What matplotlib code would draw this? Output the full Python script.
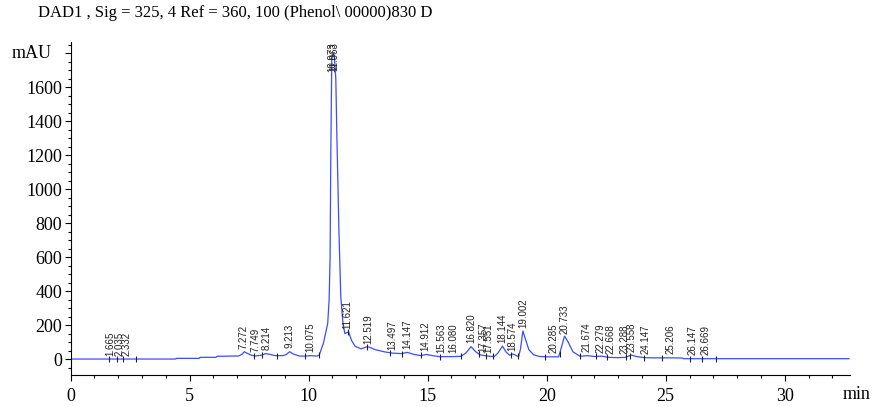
import matplotlib.pyplot as plt
import numpy as np
from matplotlib.ticker import MultipleLocator

# chromatogram trace (min, mAU)
times = [0, 4.4, 4.45, 5.4, 5.45, 6.1, 6.15, 7.05, 7.2, 7.3, 7.4, 7.6, 7.75, 8.0, 8.2,
         8.35, 8.6, 8.9, 9.05, 9.2, 9.35, 9.6, 9.85, 10.1, 10.35, 10.45, 10.62, 10.74,
         10.8, 10.86, 10.9, 10.93, 10.97, 11.02, 11.08, 11.14, 11.18, 11.27, 11.35,
         11.44, 11.52, 11.6, 11.68, 11.8, 11.95, 12.2, 12.45, 12.55, 12.8, 13.2, 13.5,
         13.9, 14.15, 14.4, 14.7, 14.95, 15.2, 15.5, 16.0, 16.4, 16.6, 16.82, 17.0,
         17.2, 17.4, 17.6, 17.8, 17.95, 18.14, 18.3, 18.45, 18.57, 18.7, 18.82, 18.9,
         19.0, 19.1, 19.25, 19.45, 19.7, 20.0, 20.5, 20.6, 20.75, 20.9, 21.1, 21.4,
         21.7, 22.0, 22.3, 22.6, 23.0, 23.3, 23.55, 23.8, 24.1, 24.5, 25.2, 25.7,
         25.75, 32.7]
signal = [0, 0, 4, 4, 10, 10, 16, 18, 28, 43, 35, 22, 18, 22, 32,
          28, 20, 20, 26, 43, 30, 18, 17, 20, 17, 25, 94, 170,
          210, 350, 600, 1200, 1760, 1795, 1785, 1650, 1347, 760, 366,
          212, 150, 155, 160, 110, 75, 60, 72, 70, 55, 42, 35,
          32, 39, 28, 20, 27, 20, 14, 14, 16, 35, 73, 45,
          25, 20, 16, 15, 35, 76, 40, 22, 30, 22, 14, 60,
          165, 120, 55, 25, 15, 13, 13, 60, 135, 100, 43, 16,
          20, 15, 17, 10, 8, 10, 23, 14, 8, 7, 7, 6,
          2, 2]

# retention time labels
peak_rt = [1.665, 2.035, 2.332, 7.272, 7.749, 8.214, 9.213, 10.075, 10.973, 11.063,
           11.621, 12.519, 13.497, 14.147, 14.912, 15.563, 16.080, 16.820, 17.357,
           17.551, 18.144, 18.574, 19.002, 20.285, 20.733, 21.674, 22.279, 22.668,
           23.288, 23.558, 24.147, 25.206, 26.147, 26.669]

# integration event marks on the baseline
event_t = [1.63, 1.94, 2.22, 2.76, 7.72, 8.03, 8.66, 9.85, 10.45, 11.67, 12.45, 13.42,
           13.9, 14.74, 15.5, 16.38, 17.14, 17.46, 17.74, 18.5, 18.8, 19.94, 20.54,
           21.4, 22.08, 22.55, 23.33, 23.5, 24.07, 24.83, 26.02, 26.51, 27.1]

plt.rcParams['font.family'] = ['Liberation Serif', 'DejaVu Serif']

fig = plt.figure(figsize=(8.72, 4.07), dpi=100)
ax = fig.add_axes([0.081, 0.0786, 0.894, 0.818])

ax.plot(times, signal, color='#3c4cff', lw=0.9)

ymax = 1865
for rt in peak_rt:
    yv = np.interp(rt, times, signal)
    if yv > 1500:
        # labels of the main peak hang down from the top of the axes
        ax.text(rt, ymax, '%.3f' % rt, rotation=90, ha='center', va='top',
                fontsize=7, family='Liberation Sans', color='#222222')
    else:
        ax.annotate('%.3f' % rt, (rt, yv), xytext=(0, 2.5), textcoords='offset points',
                    rotation=90, ha='center', va='bottom', fontsize=7,
                    family='Liberation Sans', color='#222222')

ev_y = np.interp(event_t, times, signal)
ax.plot(event_t, ev_y, ls='none', marker='|', ms=5, mew=0.8, color='#222222')

ax.set_xlim(0, 32.75)
ax.set_ylim(-94, ymax)
ax.spines['top'].set_visible(False)
ax.spines['right'].set_visible(False)
ax.xaxis.set_major_locator(MultipleLocator(5))
ax.xaxis.set_minor_locator(MultipleLocator(1))
ax.yaxis.set_major_locator(MultipleLocator(200))
ax.yaxis.set_minor_locator(MultipleLocator(50))
ax.tick_params(which='major', length=4, width=0.8, labelsize=13, pad=2)
ax.tick_params(which='minor', length=2, width=0.8)
ax.tick_params(axis='x', pad=5)

# the 1800 label is replaced by "mAU", drawn a bit further left
yt = [t for t in ax.get_yticks() if -94 <= t <= ymax]
ax.set_yticks(yt)
ax.set_yticklabels(['' if t == 1800 else '%d' % t for t in yt])
ax.text(-0.075, 1800, 'mAU', transform=ax.get_yaxis_transform(), fontsize=13,
        ha='left', va='center')

fig.text(0.966, 0.03, 'min', fontsize=13, ha='left', va='center')
fig.text(0.044, 0.968, 'DAD1 , Sig = 325, 4 Ref = 360, 100 (Phenol\\ 00000)830 D',
         fontsize=12, ha='left', va='center')

fig.savefig('out.png', dpi=100)
